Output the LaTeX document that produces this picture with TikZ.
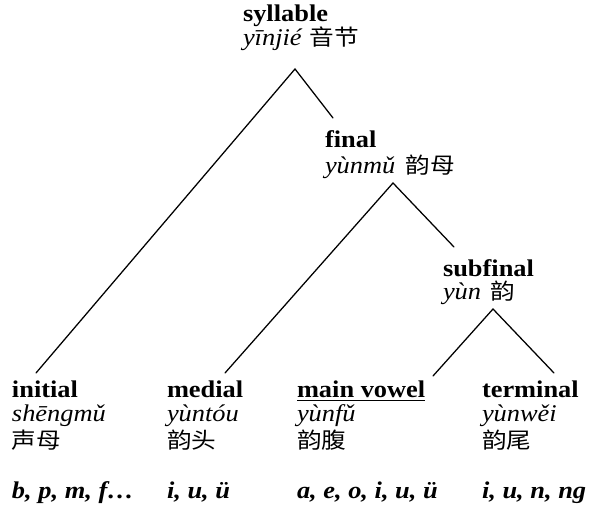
\documentclass[tikz,border=0pt]{standalone}
\usepackage{fontspec}
\setmainfont{Liberation Serif}[FakeStretch=1.1]
\newfontfamily\cjk{Noto Sans CJK SC}[FakeStretch=1.12]
\begin{document}
\begin{tikzpicture}[x=0.75pt,y=-0.75pt,
  lbl/.style={anchor=base west, inner sep=0pt, outer sep=0pt},
  head/.style={lbl, font=\fontsize{18}{22}\selectfont\bfseries},
  pin/.style={lbl, font=\fontsize{18}{22}\selectfont\itshape},
  han/.style={lbl, font=\fontsize{16.5}{20}\selectfont\cjk},
  ex/.style={lbl, font=\fontsize{18}{22}\selectfont\bfseries\itshape},
  branch/.style={line width=0.95pt, line cap=round}]
\useasboundingbox[fill=white] (0,0) rectangle (593,509);

% upper labels
\node[head] (syl)  at (243,22)  {syllable};
\node[pin]  (sylp) at (243,46)  {yīnjié\hspace{0.05em} {\upshape\cjk\fontsize{16.5}{20}\selectfont 音节}};
\node[head] (fin)  at (325,148) {final};
\node[pin]  (finp) at (325,174) {yùnmǔ\hspace{0.15em} {\upshape\cjk\fontsize{16.5}{20}\selectfont 韵母}};
\node[head] (sub)  at (443,277) {subfinal};
\node[pin]  (subp) at (443,300) {yùn\hspace{0.1em} {\upshape\cjk\fontsize{16.5}{20}\selectfont 韵}};

% bottom labels
\node[head] (ini)  at (12,398)  {initial};
\node[pin]  (inip) at (12,422)  {shēngmǔ};
\node[han]  (inih) at (12,449)  {声母};
\node[ex]   (inie) at (12,499)  {b, p, m, f…};

\node[head] (med)  at (167,398) {medial};
\node[pin]  (medp) at (167,422) {yùntóu};
\node[han]  (medh) at (167,449) {韵头};
\node[ex]   (mede) at (167,499) {i, u, ü};

\node[head] (mv)   at (297,398) {\underline{main vowel}};
\node[pin]  (mvp)  at (297,422) {yùnfǔ};
\node[han]  (mvh)  at (297,449) {韵腹};
\node[ex]   (mve)  at (297,499) {a, e, o, i, u, ü};

\node[head] (ter)  at (482,398) {terminal};
\node[pin]  (terp) at (482,422) {yùnwěi};
\node[han]  (terh) at (482,449) {韵尾};
\node[ex]   (tere) at (482,499) {i, u, n, ng};

% branch points
\coordinate (sylA) at (295,69);
\coordinate (finA) at (393,183);
\coordinate (subA) at (493,309);
\coordinate (iniT) at (36,373);
\coordinate (medT) at (225,373);
\coordinate (mvT)  at (433,376);
\coordinate (terT) at (554,373);
\coordinate (finT) at (333,118);
\coordinate (subT) at (454,247);

\draw[branch] (iniT) -- (sylA) -- (finT);
\draw[branch] (medT) -- (finA) -- (subT);
\draw[branch] (mvT) -- (subA) -- (terT);
\end{tikzpicture}
\end{document}
